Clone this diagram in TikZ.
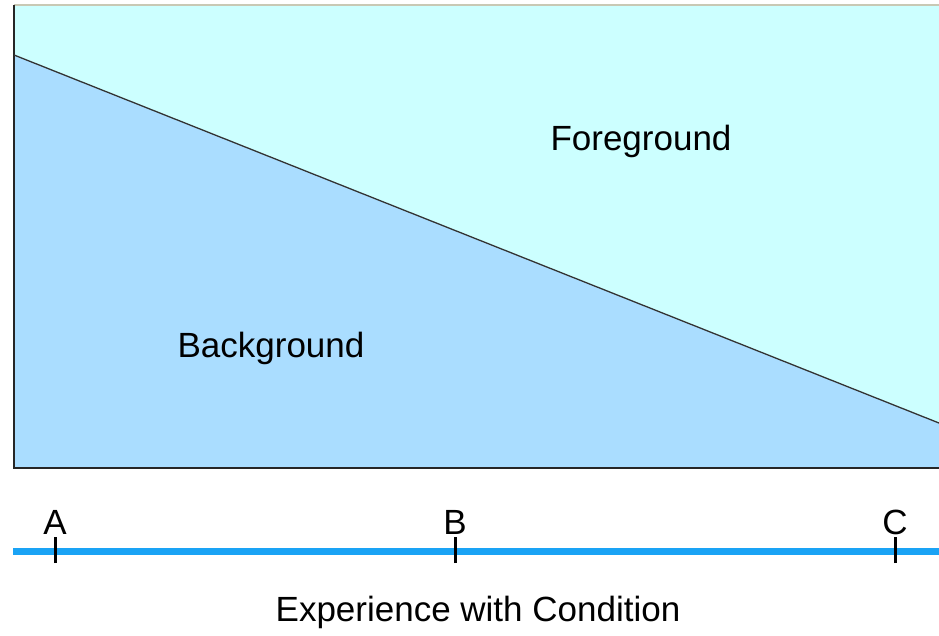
\documentclass[tikz,border=0pt]{standalone}
\usepackage{fontspec}
\setmainfont{Liberation Sans}
\definecolor{fgcol}{HTML}{CCFFFF}
\definecolor{bgcol}{HTML}{AADDFF}
\definecolor{axiscol}{HTML}{1AA3F5}
\definecolor{topcol}{HTML}{C8C8B4}
\tikzset{
  lbl/.style={font=\fontsize{35}{40}\selectfont, inner sep=0pt, text=black},
  tickmark/.style={line width=3pt, black},
}
\begin{document}
\begin{tikzpicture}[x=1pt,y=-1pt]
\useasboundingbox (0,0) rectangle (939,636);
\clip (0,0) rectangle (939,636);
% regions
\coordinate (tl) at (14,5);
\coordinate (tr) at (950,5);
\coordinate (dl) at (14,55);
\coordinate (dr) at (950,427.4);
\coordinate (br) at (950,468);
\coordinate (bl) at (14,468);
\fill[fgcol] (tl) -- (tr) -- (dr) -- (dl) -- cycle;
\fill[bgcol] (dl) -- (dr) -- (br) -- (bl) -- cycle;
\draw[topcol, line width=1.5pt] (tl) -- (tr);
\draw[black!85, line width=2pt] (tl) -- (bl) -- (br);
\draw[black!80, line width=1.3pt] (dl) -- (dr);
% labels
\node[lbl] (fg) at (641,141) {Foreground};
\node[lbl] (bg) at (271,348) {Background};
% axis
\coordinate (ax0) at (13,551);
\coordinate (ax1) at (945,551);
\draw[axiscol, line width=7pt] (ax0) -- (ax1);
\coordinate (ta) at (55,551);
\coordinate (tb) at (455,551);
\coordinate (tc) at (895,551);
\draw[tickmark] ([yshift=-12pt]ta) -- ([yshift=14pt]ta);
\draw[tickmark] ([yshift=-12pt]tb) -- ([yshift=14pt]tb);
\draw[tickmark] ([yshift=-12pt]tc) -- ([yshift=14pt]tc);
\node[lbl] (la) at (55,522) {A};
\node[lbl] (lb) at (455,522) {B};
\node[lbl] (lc) at (895,522) {C};
\node[lbl] (xl) at (478,612) {Experience with Condition};
\end{tikzpicture}
\end{document}
